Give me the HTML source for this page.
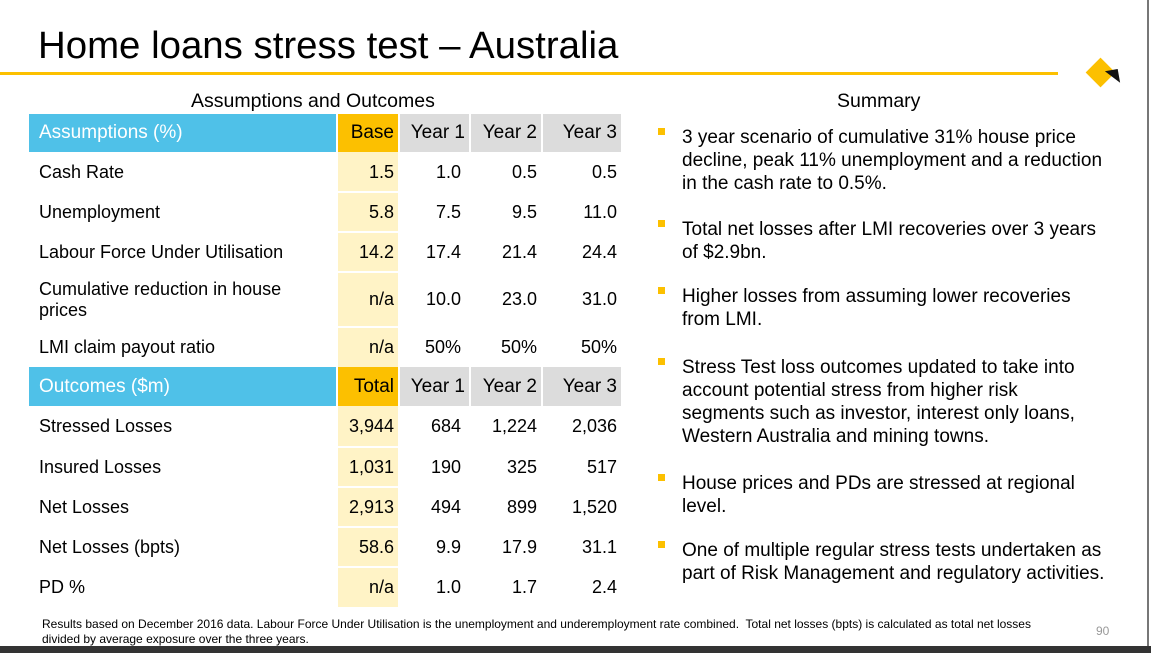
<!DOCTYPE html>
<html><head><meta charset="utf-8"><style>
body{margin:0;width:1151px;height:653px;background:#fff;position:relative;overflow:hidden;font-family:"Liberation Sans",Arial,sans-serif;color:#000}
.a{position:absolute;white-space:nowrap}
.c{position:absolute;display:flex;align-items:center;font-size:18px;box-sizing:border-box}
.r{justify-content:flex-end;padding-right:6px}
.bul{position:absolute;left:658px;width:7px;height:7px;background:#fcc000}
.t{position:absolute;left:682px;font-size:19px;line-height:23px;white-space:nowrap}
</style></head><body>
<div class="a" style="left:38px;top:24px;font-size:38.4px">Home loans stress test – Australia</div>
<div class="a" style="left:0;top:72px;width:1058px;height:3px;background:#fcc000"></div>
<div class="a" style="left:1090px;top:62px;width:21px;height:21px;background:#fcc000;transform:rotate(45deg)"></div>
<div class="a" style="left:1106px;top:70px;width:0;height:0;border-left:13px solid transparent;border-top:14px solid #111;transform:rotate(-10deg)"></div>
<div class="a" style="left:1147px;top:0;width:2px;height:653px;background:#777"></div>
<div class="a" style="left:191px;top:90px;font-size:19.5px">Assumptions and Outcomes</div>
<div class="a" style="left:837px;top:90px;font-size:19.5px">Summary</div>
<svg class="a" style="left:0;top:0" width="640" height="620">
<g fill="#fff3c6"><rect x="338" y="152" width="60" height="455"/></g>
<g stroke="#fff" stroke-width="2"><line x1="338" x2="398" y1="192" y2="192"/><line x1="338" x2="398" y1="232" y2="232"/><line x1="338" x2="398" y1="272" y2="272"/><line x1="338" x2="398" y1="327" y2="327"/><line x1="338" x2="398" y1="447" y2="447"/><line x1="338" x2="398" y1="487" y2="487"/><line x1="338" x2="398" y1="527" y2="527"/><line x1="338" x2="398" y1="567" y2="567"/></g>
<rect x="29" y="114" width="307" height="38" fill="#4fc1e8"/><rect x="338" y="114" width="60" height="38" fill="#fcc000"/>
<rect x="400" y="114" width="69" height="38" fill="#dcdcdc"/><rect x="471" y="114" width="70" height="38" fill="#dcdcdc"/><rect x="543" y="114" width="78" height="38" fill="#dcdcdc"/>
<rect x="29" y="367" width="307" height="39" fill="#4fc1e8"/><rect x="338" y="367" width="60" height="39" fill="#fcc000"/>
<rect x="400" y="367" width="69" height="39" fill="#dcdcdc"/><rect x="471" y="367" width="70" height="39" fill="#dcdcdc"/><rect x="543" y="367" width="78" height="39" fill="#dcdcdc"/>
</svg>
<div class="c" style="left:39px;top:114px;height:38px;color:#fff;font-size:19px">Assumptions (%)</div>
<div class="c" style="left:39px;top:367px;height:39px;color:#fff;font-size:19px">Outcomes ($m)</div>
<div id="tb"></div>
<script>
var cols=[[338,60],[400,69],[471,70],[543,78]];
var rows=[[114,38,"",["Base","Year 1","Year 2","Year 3"]],[152,40,"Cash Rate",["1.5","1.0","0.5","0.5"]],[192,40,"Unemployment",["5.8","7.5","9.5","11.0"]],[232,40,"Labour Force Under Utilisation",["14.2","17.4","21.4","24.4"]],[272,55,"Cumulative reduction in house<br>prices",["n/a","10.0","23.0","31.0"]],[327,40,"LMI claim payout ratio",["n/a","50%","50%","50%"]],[367,39,"",["Total","Year 1","Year 2","Year 3"]],[406,41,"Stressed Losses",["3,944","684","1,224","2,036"]],[447,40,"Insured Losses",["1,031","190","325","517"]],[487,40,"Net Losses",["2,913","494","899","1,520"]],[527,40,"Net Losses (bpts)",["58.6","9.9","17.9","31.1"]],[567,40,"PD %",["n/a","1.0","1.7","2.4"]]];
var h="";rows.forEach(function(r,i){var hd=(i==0||i==6);if(r[2])h+='<div class="c" style="left:39px;top:'+r[0]+'px;height:'+r[1]+'px;line-height:21px;white-space:nowrap">'+r[2]+'</div>';
r[3].forEach(function(v,j){var pr=(j==0||hd)?4:(j==1?8:4);h+='<div class="c r" style="padding-right:'+pr+'px;left:'+cols[j][0]+'px;top:'+r[0]+'px;width:'+cols[j][1]+'px;height:'+r[1]+'px;'+(hd?'font-size:19px':'')+'">'+v+'</div>';});});
document.getElementById("tb").innerHTML=h;
</script>
<div class="bul" style="top:128px"></div><div class="t" style="top:126px">3 year scenario of cumulative 31% house price<br>decline, peak 11% unemployment and a reduction<br>in the cash rate to 0.5%.</div>
<div class="bul" style="top:220px"></div><div class="t" style="top:218px">Total net losses after LMI recoveries over 3 years<br>of $2.9bn.</div>
<div class="bul" style="top:287px"></div><div class="t" style="top:285px">Higher losses from assuming lower recoveries<br>from LMI.</div>
<div class="bul" style="top:358px"></div><div class="t" style="top:356px">Stress Test loss outcomes updated to take into<br>account potential stress from higher risk<br>segments such as investor, interest only loans,<br>Western Australia and mining towns.</div>
<div class="bul" style="top:474px"></div><div class="t" style="top:472px">House prices and PDs are stressed at regional<br>level.</div>
<div class="bul" style="top:541px"></div><div class="t" style="top:539px">One of multiple regular stress tests undertaken as<br>part of Risk Management and regulatory activities.</div>
<div class="a" style="left:42px;top:617px;font-size:12px;line-height:15px">Results based on December 2016 data. Labour Force Under Utilisation is the unemployment and underemployment rate combined.&nbsp; Total net losses (bpts) is calculated as total net losses<br>divided by average exposure over the three years.</div>
<div class="a" style="left:1096px;top:624px;font-size:12px;color:#999">90</div>
<div class="a" style="left:0;top:646px;width:1151px;height:7px;background:#333"></div>
</body></html>
